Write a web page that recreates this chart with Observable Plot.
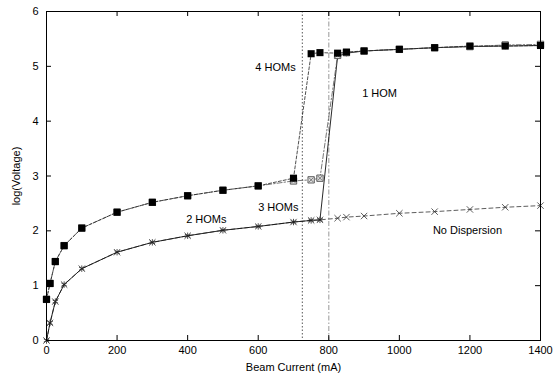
<!DOCTYPE html>
<html>
<head>
<meta charset="utf-8">
<script src="https://cdn.jsdelivr.net/npm/d3@7"></script>
<script src="https://cdn.jsdelivr.net/npm/@observablehq/plot@0.6"></script>
<style>
  html, body { margin: 0; padding: 0; background: #fff; }
  #chart svg { display: block; }
</style>
</head>
<body>
<div id="chart"></div>
<script>
// Beam current (mA)
const lowCurrents = [0, 10, 25, 50, 100, 200, 300, 400, 500, 600, 700, 750, 775];
const highCurrents = [825, 850, 900, 1000, 1100, 1200, 1300, 1400];

// log(Voltage) per series
const hom4Values = [0.75, 1.04, 1.44, 1.73, 2.05, 2.34, 2.52, 2.64, 2.74, 2.82, 2.96, 5.23, 5.25,
                    5.24, 5.26, 5.28, 5.31, 5.34, 5.37, 5.37, 5.38];
const hom3Values = [0.75, 1.04, 1.44, 1.73, 2.05, 2.34, 2.52, 2.64, 2.74, 2.82, 2.91, 2.93, 2.96,
                    5.20, 5.25, 5.28, 5.31, 5.34, 5.36, 5.39, 5.40];
const hom1Values = [0, 0.32, 0.71, 1.02, 1.31, 1.61, 1.79, 1.91, 2.01, 2.08, 2.16, 2.19, 2.20,
                    5.18, 5.24, 5.28, 5.31, 5.34, 5.36, 5.37, 5.38];
const noDispValues = [0, 0.32, 0.71, 1.02, 1.31, 1.61, 1.79, 1.91, 2.01, 2.08, 2.16, 2.19, 2.20,
                      2.23, 2.25, 2.27, 2.32, 2.35, 2.39, 2.43, 2.46];

// threshold currents (vertical lines)
const thresholdA = [725];
const thresholdB = [800];

// annotations
const labelNames = ["4 HOMs", "1 HOM", "3 HOMs", "2 HOMs", "No Dispersion"];
const labelX = [649, 944, 657, 453, 1193];
const labelY = [4.98, 4.5, 2.42, 2.2, 2.01];

const xTicks = [0, 200, 400, 600, 800, 1000, 1200, 1400];
const yTicks = [0, 1, 2, 3, 4, 5, 6];

const currents = lowCurrents.concat(highCurrents);
const mk = vals => currents.map((c, i) => ({x: c, y: vals[i]}));
const hom4 = mk(hom4Values);
const hom3 = mk(hom3Values);
const hom1 = mk(hom1Values);
const noDisp = mk(noDispValues);
const labels = labelNames.map((t, i) => ({t, x: labelX[i], y: labelY[i]}));

const W = 560, H = 376, mL = 46, mR = 20, mT = 11, mB = 36;
const pw = W - mL - mR, ph = H - mT - mB, tk = 5;
const fmt = d => String(d);

const chart = Plot.plot({
  width: W, height: H,
  marginLeft: mL, marginRight: mR, marginTop: mT, marginBottom: mB,
  style: {fontFamily: "'Liberation Sans', Arial, sans-serif", fontSize: "11px", color: "#000", background: "#fff"},
  x: {domain: [0, 1400]},
  y: {domain: [0, 6]},
  marks: [
    Plot.ruleX(thresholdA, {x: d => d, stroke: "#444", strokeWidth: 0.9, strokeDasharray: "1.5,2"}),
    Plot.ruleX(thresholdB, {x: d => d, stroke: "#aaa", strokeWidth: 1.2, strokeDasharray: "5,2,1.5,2"}),
    // ticks inward
    Plot.tickX(xTicks, {x: d => d, insetTop: ph - tk, stroke: "#000"}),
    Plot.tickX(xTicks, {x: d => d, insetBottom: ph - tk, stroke: "#000"}),
    Plot.tickY(yTicks, {y: d => d, insetRight: pw - tk, stroke: "#000"}),
    Plot.tickY(yTicks, {y: d => d, insetLeft: pw - tk, stroke: "#000"}),
    Plot.axisX(xTicks, {tickSize: 0, tickPadding: 6, tickFormat: fmt, label: "Beam Current (mA)", labelAnchor: "center", labelOffset: 30, labelArrow: "none"}),
    Plot.axisY(yTicks, {tickSize: 0, tickPadding: 8, tickFormat: fmt, label: "log(Voltage)", labelAnchor: "center", labelOffset: 34, labelArrow: "none"}),
    // lines
    Plot.line(noDisp, {x: "x", y: "y", stroke: "#333", strokeWidth: 0.8, strokeDasharray: "4,3"}),
    Plot.line(hom1, {x: "x", y: "y", stroke: "#111", strokeWidth: 0.9}),
    Plot.line(hom3, {x: "x", y: "y", stroke: "#555", strokeWidth: 0.8, strokeDasharray: "5,2,1.5,2"}),
    Plot.line(hom4, {x: "x", y: "y", stroke: "#222", strokeWidth: 0.8, strokeDasharray: "3,2"}),
    // markers
    Plot.dot(noDisp, {x: "x", y: "y", symbol: "times", r: 3, stroke: "#333", strokeWidth: 0.8}),
    Plot.dot(hom1, {x: "x", y: "y", symbol: "asterisk", r: 3, stroke: "#222", strokeWidth: 0.8}),
    Plot.dot(hom3, {x: "x", y: "y", symbol: "square", r: 3.6, stroke: "#555", fill: "#ddd", strokeWidth: 0.9}),
    Plot.dot(hom3, {x: "x", y: "y", symbol: "times", r: 2.2, stroke: "#555", strokeWidth: 0.7}),
    Plot.dot(hom4, {x: "x", y: "y", symbol: "square", r: 4, fill: "#000", stroke: "none"}),
    // annotations
    Plot.text(labels, {x: "x", y: "y", text: "t", fill: "#000", fontSize: 11}),
    Plot.frame({stroke: "#000", strokeWidth: 1})
  ]
});
document.getElementById("chart").appendChild(chart);
</script>
</body>
</html>
